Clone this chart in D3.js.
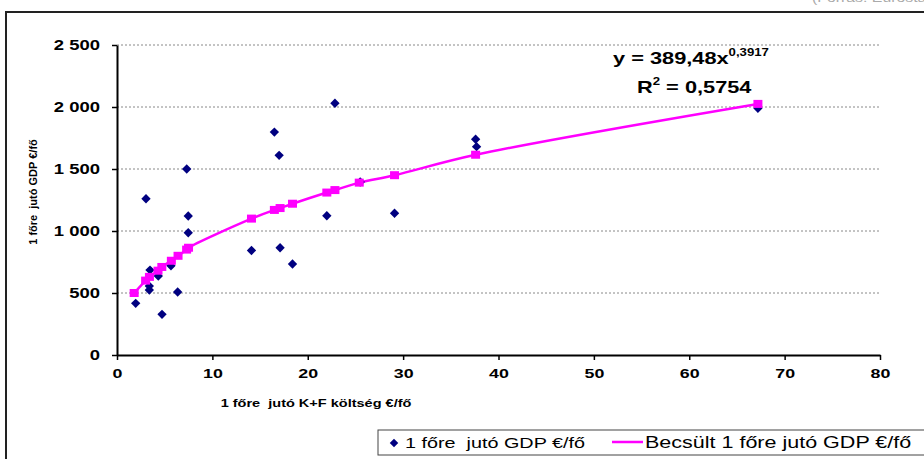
<html>
<head>
  <style>
  body { margin: 0; background: #fff; }
  #chart text { font-family: "Liberation Sans", Arial, sans-serif; fill: #000; white-space: pre; }
  #chart .tick text { font-size: 13.5px; font-weight: bold; }
  #chart .axis path, #chart .axis line { stroke: #000; stroke-width: 2px; }
  #chart .grid line { stroke: #888; stroke-dasharray: 2,2; stroke-width: 1px; }
  </style>
  <script src="https://d3js.org/d3.v7.min.js"></script>
</head>
<body>
  <svg id="chart"></svg>
</body>
  <script>

  // 1 főre jutó K+F költség (x) és GDP (y) - megfigyelt pontok
  var rdCost = [1.96, 3.04, 3.46, 3.39, 3.39, 4.33, 4.72, 5.66, 6.36, 7.31, 7.47, 7.47,
                14.1, 16.5, 17.0, 17.1, 18.4, 22.0, 22.85, 25.5, 29.1, 37.6, 37.7, 67.2];
  var gdp    = [417, 1260, 685, 556, 524, 637, 328, 720, 508, 1500, 1121, 986,
                843, 1798, 1610, 865, 734, 1123, 2030, 1395, 1143, 1740, 1680, 1990];

  // becsült értékek (rózsaszín négyzetek)
  var estX = [1.8, 3.0, 3.4, 4.3, 4.7, 5.7, 6.4, 7.3, 7.5, 14.1, 16.5, 17.1, 18.4,
              22.0, 22.85, 25.4, 29.1, 37.6, 67.2];
  var estY = [500, 600, 630, 680, 710, 760, 800, 850, 865, 1100, 1170, 1185, 1220,
              1310, 1330, 1390, 1450, 1615, 2025];

  var xTicks = [0, 10, 20, 30, 40, 50, 60, 70, 80];
  var yTicks = [0, 500, 1000, 1500, 2000, 2500];

  var width = 924, height = 459;
  var plotL = 117, plotR = 880, plotT = 45, plotB = 355;
  var stretch = 1.32; // the original text is drawn wider than normal

  var svg = d3.select("#chart").attr("width", width).attr("height", height);

  var x = d3.scaleLinear().domain([0, 80]).range([plotL, plotR]);
  var y = d3.scaleLinear().domain([0, 2500]).range([plotB, plotT]);

  // text placed at (px, py) but widened horizontally
  function wideText(g, px, py, size) {
    return g.append("text")
        .attr("transform", "translate(" + px + "," + py + ") scale(" + stretch + ",1)")
        .style("font-size", size + "px");
  }

  // cut-off source note at top right
  wideText(svg, 812, 2, 12).style("fill", "#aaa").text("(Forrás: Eurostat)");

  // outer frame (runs past the right and bottom edges)
  svg.append("rect").attr("x", 6).attr("y", 12)
      .attr("width", 940).attr("height", 470)
      .attr("fill", "none").attr("stroke", "#222").attr("stroke-width", 2);

  // gridlines
  svg.append("g").attr("class", "grid")
    .selectAll("line").data(yTicks.filter(function(d) { return d > 0; }))
    .enter().append("line")
      .attr("x1", plotL).attr("x2", plotR)
      .attr("y1", function(d) { return y(d); })
      .attr("y2", function(d) { return y(d); });

  var fmt = function(d) { return d3.format(",")(d).replace(",", " "); };

  var yAxis = svg.append("g").attr("class", "axis")
      .attr("transform", "translate(" + plotL + ",0)")
      .call(d3.axisLeft(y).tickValues(yTicks).tickFormat(fmt).tickSize(5).tickSizeOuter(0).tickPadding(12));

  var xAxis = svg.append("g").attr("class", "axis")
      .attr("transform", "translate(0," + plotB + ")")
      .call(d3.axisBottom(x).tickValues(xTicks).tickSize(5).tickSizeOuter(0).tickPadding(8));

  svg.selectAll(".axis .tick line").style("stroke-width", "1.5px");
  // widen the tick labels like the original
  yAxis.selectAll(".tick text").style("font-size", "14px").attr("transform", function() {
    var tx = +d3.select(this).attr("x");
    return "translate(" + tx + ",0) scale(" + stretch + ",1)";
  }).attr("x", 0);
  xAxis.selectAll(".tick text").attr("transform", "scale(" + stretch + ",1)");

  // axis titles
  svg.append("text")
      .attr("transform", "translate(37,192) rotate(-90)")
      .attr("text-anchor", "middle")
      .style("font-size", "11px").style("font-weight", "bold")
      .text("1 főre  jutó GDP €/fő");

  wideText(svg, 316, 407, 11).attr("text-anchor", "middle").style("font-weight", "bold")
      .text("1 főre  jutó K+F költség €/fő");

  // estimated curve
  var est = estX.map(function(d, i) { return [d, estY[i]]; });
  svg.append("path").datum(est)
      .attr("fill", "none").attr("stroke", "#ff00ff").attr("stroke-width", 2.5)
      .attr("d", d3.line().curve(d3.curveCatmullRom.alpha(0.5))
        .x(function(d) { return x(d[0]); })
        .y(function(d) { return y(d[1]); }));

  // observed points (diamonds)
  var pts = rdCost.map(function(d, i) { return [d, gdp[i]]; });
  svg.append("g").selectAll("path").data(pts)
    .enter().append("path")
      .attr("transform", function(d) { return "translate(" + x(d[0]) + "," + y(d[1]) + ") rotate(45)"; })
      .attr("d", "M-3.3,-3.3H3.3V3.3H-3.3Z")
      .attr("fill", "#000080");

  svg.append("g").selectAll("rect").data(est)
    .enter().append("rect")
      .attr("x", function(d) { return x(d[0]) - 4.5; })
      .attr("y", function(d) { return y(d[1]) - 4; })
      .attr("width", 9).attr("height", 8)
      .attr("fill", "#ff00ff");

  // equation
  var eq = wideText(svg, 613, 64, 16.5).style("font-weight", "bold");
  eq.append("tspan").text("y = 389,48x");
  eq.append("tspan").attr("dy", -8).style("font-size", "10px").text("0,3917");

  var r2 = wideText(svg, 637, 93, 16.5).style("font-weight", "bold");
  r2.append("tspan").text("R");
  r2.append("tspan").attr("dy", -8).style("font-size", "10px").text("2");
  r2.append("tspan").attr("dy", 8).text(" = 0,5754");

  // legend
  var lg = svg.append("g");
  lg.append("rect").attr("x", 378).attr("y", 430).attr("width", 560).attr("height", 25)
      .attr("fill", "#fff").attr("stroke", "#444").attr("stroke-width", 1);
  lg.append("path").attr("transform", "translate(394,443) rotate(45)")
      .attr("d", "M-3,-3H3V3H-3Z").attr("fill", "#000080");
  wideText(lg, 405, 448, 15).text("1 főre  jutó GDP €/fő");
  lg.append("line").attr("x1", 612).attr("x2", 643).attr("y1", 442).attr("y2", 442)
      .attr("stroke", "#ff00ff").attr("stroke-width", 2.5);
  wideText(lg, 645, 448, 16.3).text("Becsült 1 főre jutó GDP €/fő");

  </script>
</html>
